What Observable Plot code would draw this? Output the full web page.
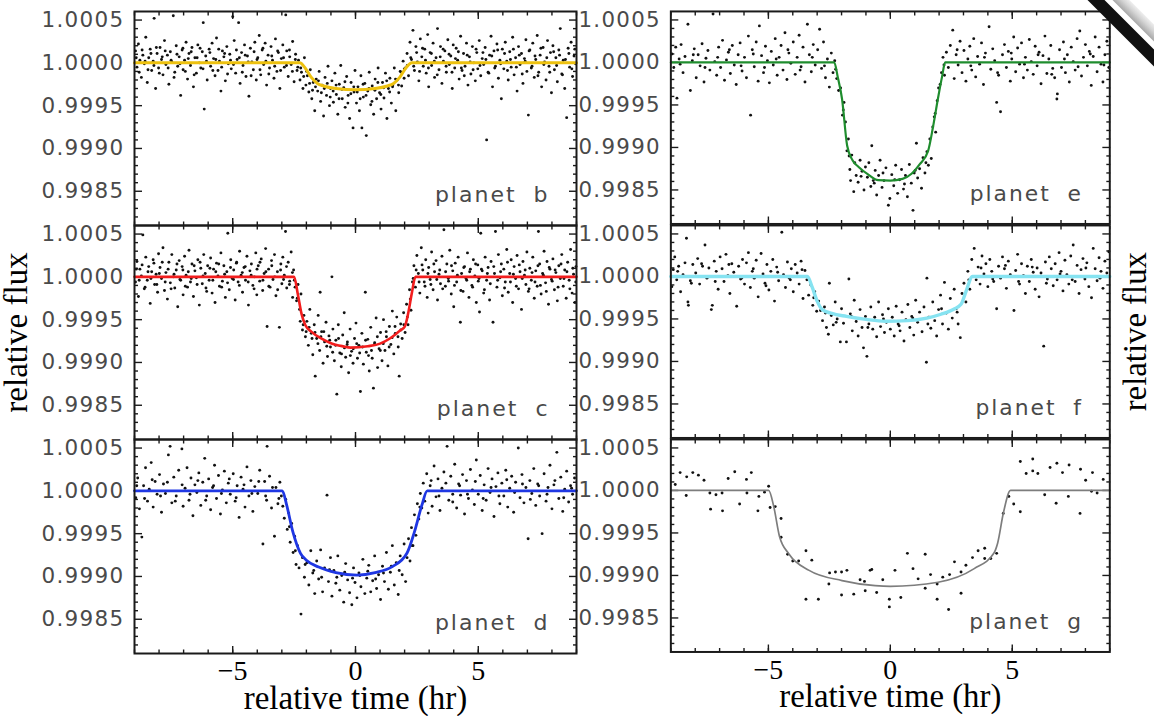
<!DOCTYPE html>
<html><head><meta charset="utf-8">
<script src="https://cdn.jsdelivr.net/npm/d3@7"></script>
<script src="https://cdn.jsdelivr.net/npm/@observablehq/plot@0.6"></script>
<style>
body{margin:0;background:#fff;}
#wrap{position:relative;width:1154px;height:716px;overflow:hidden;background:#fff;}
.panel{position:absolute;}
.panel svg{overflow:visible;background:transparent;}
g[aria-label="y-axis tick label"] text{letter-spacing:1.3px;}
.deco{position:absolute;transform:rotate(45deg);transform-origin:50% 50%;}
#rim{left:1085px;top:13px;width:110px;height:12px;background:linear-gradient(to top,#a8a8a8,#d6d6d6 60%,#eeeeee);}
#band{left:1071px;top:24px;width:110px;height:12px;background:#111;}
</style></head><body><div id="wrap"><div id="rim" class="deco"></div><div id="band" class="deco"></div></div>
<script>
// ---- axes / labels ----
const xMinorTicks = [-9,-8,-7,-6,-5,-4,-3,-2,-1,0,1,2,3,4,5,6,7,8,9];
const xMajorTicks = [-5,0,5];
const xTickLabels = ["\u22125","0","5"];
const yMajorTicks = [0.9985,0.9990,0.9995,1.0000,1.0005];
const yTickLabels = ["0.9985","0.9990","0.9995","1.0000","1.0005"];
const yMinorTicks = [0.9982,0.9983,0.9984,0.9986,0.9987,0.9988,0.9989,0.9991,0.9992,0.9993,0.9994,0.9996,0.9997,0.9998,0.9999,1.0001,1.0002,1.0003,1.0004];
const panelNames = ["planet b","planet c","planet d","planet e","planet f","planet g"];
const lineColors = ["#edc10f","#f21d1d","#1f37e3","#1f8d2e","#86e3f1","#7d7d7d"];
const xTitle = "relative time (hr)";
const yTitle = "relative flux";

// ---- model curves: pairs of [time (hr), flux deviation (ppm)] ----
const modelB = [-9,0, -2.27,0, -2.05,-60, -1.8,-170, -1.55,-240, -1.3,-270, -0.8,-300, 0,-315, 0.8,-300, 1.3,-270, 1.55,-240, 1.8,-170, 2.05,-60, 2.3,0, 9,0];
const modelC = [-9,0, -2.5,0, -2.35,-200, -2.2,-430, -2.04,-566, -1.8,-640, -1.4,-720, -1.0,-775, -0.5,-812, -0.2,-827, 0.5,-810, 1.0,-780, 1.4,-720, 1.83,-624, 2.0,-585, 2.15,-420, 2.3,-180, 2.44,0, 9,0];
const modelD = [-9,0, -2.98,0, -2.8,-170, -2.55,-480, -2.24,-730, -2.0,-810, -1.5,-890, -0.8,-955, 0.06,-984, 0.8,-955, 1.5,-885, 2.1,-726, 2.4,-480, 2.7,-170, 2.92,0, 9,0];
const modelE = [-9,0, -2.3,0, -2.15,-180, -1.98,-430, -1.77,-980, -1.55,-1150, -1.3,-1230, -0.9,-1320, -0.5,-1385, 0,-1390, 0.5,-1370, 0.87,-1310, 1.2,-1200, 1.55,-1040, 1.75,-760, 1.95,-430, 2.12,-170, 2.25,0, 9,0];
const modelF = [-9,0, -3.4,0, -3.2,-130, -3.0,-290, -2.79,-390, -2.4,-435, -1.8,-470, -1.0,-505, -0.2,-527, 0.7,-520, 1.5,-490, 2.08,-445, 2.6,-385, 2.9,-328, 3.1,-180, 3.37,0, 9,0];
const modelG = [-9,0, -4.99,0, -4.78,-190, -4.55,-535, -4.15,-750, -3.33,-940, -1.98,-1060, -0.62,-1120, 0,-1128, 1.96,-1080, 3.44,-920, 4.25,-735, 4.4,-620, 4.64,-260, 4.93,0, 9,0];

// ---- measurements: pairs of [time (hr), flux deviation (ppm)] ----
const ptsB = [-8.96,140,-8.9,-50,-8.84,220,-8.78,30,-8.72,-170,-8.66,90,-8.6,-10,-8.54,300,-8.48,-230,-8.42,60,-8.36,160,-8.3,-90,-8.24,20,-8.2,520,-8.14,-300,-8.08,110,-8.02,-60,
-7.96,180,-7.9,40,-7.84,-140,-7.78,260,-7.72,-20,-7.66,90,-7.6,-250,-7.54,130,-7.48,10,-7.42,550,-7.36,-110,-7.3,200,-7.24,-40,-7.18,70,-7.12,-380,-7.06,150,-7.02,-80,
-6.96,30,-6.9,240,-6.84,-190,-6.78,110,-6.72,-30,-6.66,180,-6.6,-280,-6.54,60,-6.48,-120,-6.42,210,-6.36,0,-6.3,-60,-6.24,130,-6.2,470,-6.16,-540,-6.1,80,-6.04,-200,
-5.96,160,-5.9,-40,-5.84,230,-5.78,50,-5.72,-150,-5.66,290,-5.6,-90,-5.54,20,-5.48,-330,-5.42,140,-5.36,70,-5.3,-210,-5.24,190,-5.18,-10,-5.12,100,-5.06,-70,-5.0,540,
-4.94,260,-4.88,-120,-4.82,40,-4.76,470,-4.7,-240,-4.64,120,-4.58,-30,-4.52,210,-4.46,-160,-4.4,80,-4.34,-390,-4.28,170,-4.22,10,-4.16,-80,-4.1,240,-4.04,-200,
-3.98,60,-3.92,320,-3.86,-140,-3.8,150,-3.74,-20,-3.68,230,-3.62,-260,-3.56,90,-3.5,-60,-3.44,190,-3.38,30,-3.32,-180,-3.26,280,-3.2,-100,-3.14,120,-3.08,-300,-3.02,50,
-2.96,210,-2.9,-50,-2.84,560,-2.8,140,-2.74,-160,-2.68,70,-2.62,-20,-2.56,250,-2.5,-220,-2.44,100,-2.38,-90,-2.32,30,-2.26,-200,-2.2,-110,-2.14,-300,-2.08,60,-2.02,-260,
-1.96,-150,-1.9,-340,-1.84,-80,-1.78,-420,-1.72,-230,-1.66,-560,-1.6,-190,-1.54,-330,-1.48,-100,-1.42,-450,-1.36,-260,-1.3,-620,-1.24,-170,-1.18,-380,-1.12,-40,-1.06,-500,-1.02,-300,
-0.96,-210,-0.9,-460,-0.84,-120,-0.78,-370,-0.72,-600,-0.66,-250,-0.6,-30,-0.54,-420,-0.48,-290,-0.42,-520,-0.36,-160,-0.3,-380,-0.24,-650,-0.18,-230,-0.1,-760,-0.06,-340,-0.02,-90,
0.04,-470,0.1,-280,0.16,-560,0.22,-150,0.26,-760,0.32,-400,0.38,-240,0.44,-850,0.5,-330,0.56,-110,0.62,-490,0.68,-270,0.74,-600,0.8,-190,0.86,-420,0.92,-60,0.98,-350,
1.04,-540,1.1,-230,1.16,-410,1.22,-120,1.28,-650,1.34,-300,1.4,-180,1.46,-470,1.52,-260,1.58,-60,1.64,-560,1.7,-200,1.76,-350,1.82,-100,1.88,-270,1.94,20,1.98,-180,
2.04,-60,2.1,110,2.16,-150,2.22,240,2.28,40,2.34,380,2.4,-90,2.46,190,2.52,10,2.58,-210,2.64,280,2.7,70,2.76,-40,2.82,160,2.88,-120,2.94,330,2.98,-280,
3.04,120,3.1,-30,3.16,230,3.22,-170,3.28,60,3.34,400,3.4,-80,3.46,190,3.52,-240,3.58,20,3.64,140,3.7,-110,3.76,270,3.82,-20,3.88,80,3.94,-300,3.98,210,
4.04,-60,4.1,170,4.16,30,4.22,-190,4.28,310,4.34,-90,4.4,110,4.46,-40,4.52,230,4.58,-260,4.64,70,4.7,-130,4.76,190,4.82,0,4.88,-210,4.94,120,4.98,-70,
5.04,260,5.1,-150,5.16,50,5.22,-20,5.28,180,5.34,-900,5.4,-110,5.46,90,5.52,310,5.58,-280,5.64,140,5.7,-40,5.76,220,5.82,-180,5.88,30,5.94,-420,5.98,160,
6.04,-70,6.1,240,6.16,20,6.22,-200,6.28,130,6.34,-50,6.4,300,6.46,-140,6.52,60,6.58,-330,6.64,190,6.7,-20,6.76,110,6.82,-240,6.88,50,6.94,270,6.98,-100,
7.04,-610,7.1,150,7.16,-60,7.22,230,7.28,-170,7.34,40,7.4,320,7.46,-110,7.52,90,7.58,-280,7.64,180,7.7,10,7.76,-200,7.82,260,7.88,-40,7.94,120,7.98,-350,
8.04,200,8.1,-80,8.16,60,8.22,-220,8.28,150,8.34,400,8.4,-130,8.46,30,8.52,-300,8.6,-640,8.66,170,8.72,-50,8.78,240,8.84,-160,8.9,80,8.96,-10];
const ptsB2 = [-8.93,60,-8.81,-110,-8.69,150,-8.57,20,-8.45,-80,-8.33,110,-8.21,-30,-8.11,180,-7.99,-120,-7.87,70,-7.75,140,-7.63,-60,-7.51,30,-7.39,-170,-7.27,100,-7.15,-10,-7.03,170,-6.93,-100,-6.81,50,-6.69,130,-6.57,-140,-6.45,60,-6.33,170,-6.21,-70,-6.07,20,-5.93,120,-5.81,-90,-5.69,40,-5.57,160,-5.45,-50,-5.33,110,-5.21,-130,-5.09,30,-4.97,-20,-4.85,150,-4.73,60,-4.61,-110,-4.49,90,-4.37,10,-4.25,-150,-4.13,130,-4.01,40,-3.89,-80,-3.77,170,-3.65,20,-3.53,-130,-3.41,80,-3.29,-40,-3.17,140,-3.05,-90,-2.93,60,-2.81,-30,-2.69,150,-2.57,-100,-2.45,40,-2.35,-50,-2.23,-60,-2.11,-160,-1.99,-100,-1.87,-240,-1.75,-320,-1.63,-280,-1.51,-210,-1.39,-350,-1.27,-300,-1.15,-240,-1.03,-400,-0.91,-330,-0.79,-260,-0.67,-420,-0.55,-310,-0.43,-220,-0.31,-470,-0.19,-360,-0.07,-280,0.07,-340,0.19,-420,0.31,-250,0.43,-380,0.55,-300,0.67,-450,0.79,-320,0.91,-230,1.03,-370,1.15,-290,1.27,-210,1.39,-340,1.51,-280,1.63,-190,1.75,-260,1.87,-110,1.99,-70,2.11,-30,2.25,60,2.37,-40,2.49,120,2.61,-100,2.73,170,2.85,30,2.97,-60,3.09,110,3.21,20,3.33,-140,3.45,70,3.57,160,3.69,-40,3.81,100,3.93,-110,4.07,50,4.19,130,4.31,-60,4.43,-150,4.55,90,4.67,10,4.79,-80,4.91,160,5.07,-30,5.19,120,5.31,40,5.43,-120,5.55,80,5.67,-60,5.79,150,5.91,-10,6.07,110,6.19,-90,6.31,40,6.43,160,6.55,-50,6.67,90,6.79,-130,6.91,20,7.07,140,7.19,-40,7.31,80,7.43,-150,7.55,170,7.67,-20,7.79,60,7.91,-110,8.07,130,8.19,-30,8.31,90,8.43,-140,8.55,40,8.69,110,8.81,-70,8.93,160];

const ptsC = [-8.96,-60,-8.9,180,-8.84,-230,-8.78,90,-8.72,10,-8.66,490,-8.6,-140,-8.54,230,-8.48,-40,-8.42,120,-8.36,-310,-8.3,60,-8.24,200,-8.18,-90,-8.12,30,-8.06,-180,-8.02,270,
-7.96,110,-7.9,-20,-7.84,340,-7.78,-160,-7.72,50,-7.66,-260,-7.6,170,-7.54,-70,-7.48,260,-7.42,0,-7.36,-130,-7.3,80,-7.24,-350,-7.18,190,-7.12,-40,-7.06,120,-7.02,-210,
-6.96,240,-6.9,20,-6.84,-120,-6.78,310,-6.72,-60,-6.66,150,-6.6,-230,-6.54,70,-6.48,-10,-6.42,200,-6.36,-330,-6.3,100,-6.24,-80,-6.18,260,-6.12,40,-6.06,-170,-6.02,130,
-5.96,-40,-5.9,220,-5.84,-190,-5.78,90,-5.72,-300,-5.66,160,-5.6,10,-5.54,-110,-5.48,280,-5.42,-50,-5.36,130,-5.3,-240,-5.24,60,-5.2,510,-5.14,-150,-5.08,200,-5.02,-20,
-4.96,80,-4.9,-270,-4.84,170,-4.78,-60,-4.72,300,-4.66,20,-4.6,-180,-4.54,110,-4.48,-40,-4.42,240,-4.36,-330,-4.3,70,-4.24,150,-4.18,-100,-4.12,0,-4.06,280,-4.02,-210,
-3.96,130,-3.9,-50,-3.84,210,-3.78,-160,-3.72,40,-3.66,330,-3.6,-580,-3.54,90,-3.48,-120,-3.42,190,-3.36,-30,-3.3,260,-3.24,-220,-3.18,60,-3.1,-590,-3.04,150,-3.0,-80,
-2.96,230,-2.9,20,-2.85,530,-2.8,-130,-2.74,170,-2.68,-50,-2.62,290,-2.56,-240,-2.52,80,-2.46,-120,-2.4,-280,-2.34,-90,-2.28,-380,-2.22,-200,-2.16,-620,-2.1,-450,-2.04,-700,
-1.98,-520,-1.92,-800,-1.86,-380,-1.8,-660,-1.74,-910,-1.68,-560,-1.64,-1160,-1.58,-720,-1.52,-450,-1.46,-860,-1.44,-180,-1.38,-640,-1.32,-1010,-1.26,-760,-1.2,-530,-1.14,-930,-1.08,-690,-1.02,-820,
-0.96,0,-0.92,-610,-0.86,-980,-0.8,-740,-0.76,-1370,-0.7,-560,-0.64,-890,-0.58,-1050,-0.52,-680,-0.46,-420,-0.4,-940,-0.34,-790,-0.28,-1120,-0.22,-610,-0.16,-870,-0.1,-1010,-0.04,-720,
0.02,-540,0.08,-950,0.14,-800,0.2,-1340,0.26,-660,0.32,-1020,0.4,-180,0.44,-880,0.5,-730,0.56,-1100,0.62,-590,0.68,-950,0.73,-1300,0.78,-770,0.84,-480,0.9,-1060,0.96,-840,
1.02,-650,1.08,-980,1.14,-500,1.2,-860,1.26,-700,1.32,-1040,1.38,-580,1.44,-790,1.5,-400,1.56,-900,1.62,-660,1.68,-470,1.74,-820,1.78,-1160,1.84,-550,1.9,-720,1.96,-420,
2.02,-650,2.08,-320,2.14,-560,2.2,-150,2.26,-390,2.32,-60,2.38,130,2.44,-120,2.5,250,2.56,40,2.62,-190,2.68,340,2.74,80,2.8,-60,2.86,200,2.92,-240,2.98,110,
3.04,-30,3.1,290,3.16,-150,3.22,60,3.28,190,3.34,-270,3.4,30,3.46,-80,3.52,240,3.6,550,3.66,-110,3.72,150,3.78,-20,3.84,310,3.9,-200,3.96,70,4.0,-350,
4.06,160,4.12,-60,4.18,230,4.27,-530,4.32,40,4.38,-170,4.44,120,4.5,-20,4.56,280,4.62,-240,4.68,90,4.74,-100,4.8,200,4.86,10,4.92,-300,4.98,140,5.0,-50,
5.05,-410,5.1,510,5.16,70,5.22,-190,5.28,230,5.34,-40,5.4,110,5.46,-270,5.52,180,5.6,-530,5.66,40,5.7,530,5.76,-120,5.82,260,5.88,-10,5.94,150,5.98,-220,
6.04,90,6.1,-60,6.16,320,6.22,-180,6.28,40,6.34,200,6.4,-300,6.46,120,6.52,-20,6.58,250,6.64,-140,6.7,60,6.76,-380,6.82,180,6.88,20,6.94,-90,6.98,290,
7.04,-170,7.1,100,7.16,-40,7.22,230,7.28,-250,7.34,70,7.4,-110,7.45,530,7.5,150,7.56,-200,7.62,40,7.68,300,7.74,-70,7.8,180,7.86,-320,7.92,90,7.98,-30,
8.04,210,8.1,-150,8.16,50,8.22,-280,8.28,130,8.34,-20,8.4,260,8.46,-110,8.52,80,8.58,-250,8.64,170,8.7,-40,8.76,320,8.82,-190,8.88,30,8.94,-300,8.98,120];
const ptsC2 = [-8.93,90,-8.81,-40,-8.69,140,-8.57,-120,-8.45,60,-8.33,-20,-8.21,160,-8.09,-90,-7.99,40,-7.87,170,-7.75,-60,-7.63,90,-7.51,-140,-7.39,30,-7.27,150,-7.15,-30,-7.03,80,-6.93,-110,-6.81,60,-6.69,-20,-6.57,130,-6.45,-90,-6.33,170,-6.21,10,-6.09,-130,-5.93,100,-5.81,-40,-5.69,60,-5.57,150,-5.45,-120,-5.33,30,-5.21,-70,-5.09,110,-4.97,-30,-4.85,160,-4.73,-100,-4.61,50,-4.49,120,-4.37,-60,-4.25,20,-4.13,-140,-4.01,90,-3.89,170,-3.77,-40,-3.65,60,-3.53,-110,-3.41,130,-3.29,0,-3.17,-150,-3.05,80,-2.93,-30,-2.81,120,-2.69,-90,-2.57,50,-2.49,-40,-2.37,-250,-2.25,-520,-2.13,-560,-2.01,-640,-1.89,-590,-1.77,-720,-1.65,-650,-1.53,-780,-1.41,-700,-1.29,-640,-1.17,-810,-1.05,-740,-0.93,-880,-0.81,-800,-0.69,-720,-0.57,-900,-0.45,-830,-0.33,-760,-0.21,-920,-0.09,-840,0.05,-780,0.17,-890,0.29,-820,0.41,-740,0.53,-920,0.65,-860,0.77,-790,0.89,-700,1.01,-860,1.13,-780,1.25,-640,1.37,-820,1.49,-710,1.61,-580,1.73,-700,1.85,-620,1.97,-560,2.11,-470,2.23,-260,2.35,-20,2.47,80,2.59,-60,2.71,140,2.83,-110,2.95,40,3.07,-90,3.19,150,3.31,-30,3.43,80,3.55,-140,3.67,60,3.79,-50,3.91,130,4.03,-100,4.15,20,4.29,-160,4.41,110,4.53,-40,4.65,60,4.77,-120,4.89,150,5.03,-20,5.13,90,5.25,-150,5.37,40,5.49,-80,5.63,120,5.79,-40,5.91,60,6.07,-130,6.19,170,6.31,-60,6.43,30,6.55,-110,6.67,140,6.79,-20,6.91,80,7.07,-140,7.19,50,7.31,-60,7.43,130,7.53,-100,7.65,20,7.77,-170,7.89,110,8.01,-50,8.13,80,8.25,-120,8.37,150,8.49,-20,8.61,60,8.73,-140,8.85,100,8.97,-60];

const ptsD = [-8.95,-80,-8.87,150,-8.8,-210,-8.7,-540,-8.63,60,-8.55,270,-8.47,-120,-8.4,20,-8.32,330,-8.24,-190,-8.16,110,-8.08,-40,
-7.98,190,-7.9,-250,-7.82,80,-7.74,-30,-7.62,420,-7.55,520,-7.48,-140,-7.4,160,-7.3,-60,-7.2,240,-7.07,490,-7.02,-180,
-6.94,30,-6.86,270,-6.78,-110,-6.7,150,-6.62,-290,-6.54,70,-6.46,-20,-6.38,210,-6.3,-170,-6.22,100,-6.14,380,-6.06,-60,
-5.98,140,-5.9,-220,-5.82,40,-5.74,300,-5.66,-90,-5.58,180,-5.5,-270,-5.42,10,-5.34,230,-5.26,-140,-5.18,90,-5.1,-40,
-4.98,200,-4.9,-120,-4.82,60,-4.74,-310,-4.66,160,-4.58,20,-4.5,-190,-4.42,280,-4.34,-60,-4.26,120,-4.18,-240,-4.1,50,
-3.98,-30,-3.9,240,-3.77,-620,-3.7,110,-3.62,-110,-3.6,520,-3.5,170,-3.42,-200,-3.3,-530,-3.24,40,-3.16,-150,-3.08,100,-3.02,-60,
-2.96,-180,-2.9,-320,-2.84,-100,-2.78,-450,-2.72,-260,-2.66,-600,-2.6,-380,-2.54,-720,-2.48,-530,-2.42,-860,-2.36,-640,-2.3,-900,-2.22,-1440,-2.16,-780,-2.08,-1010,
-1.98,-840,-1.9,-1100,-1.82,-700,-1.74,-960,-1.66,-1200,-1.58,-820,-1.5,-1030,-1.42,-690,-1.34,-1180,-1.26,-900,-1.16,-50,-1.1,-1060,-1.02,-780,
-0.96,-1230,-0.88,-930,-0.8,-1080,-0.72,-760,-0.64,-1160,-0.56,-990,-0.48,-1300,-0.4,-850,-0.32,-1040,-0.24,-1190,-0.15,-1330,-0.08,-900,-0.02,-1070,
0.06,-1250,0.14,-960,0.22,-1120,0.3,-800,0.38,-1200,0.46,-1020,0.54,-870,0.62,-1180,0.7,-1050,0.78,-760,0.86,-1140,0.94,-980,
1.02,-1270,1.1,-880,1.18,-1060,1.26,-720,1.34,-1150,1.42,-950,1.5,-640,1.58,-1100,1.66,-840,1.74,-1210,1.82,-760,1.9,-980,1.98,-620,
2.04,-1060,2.1,-780,2.16,-560,2.22,-820,2.28,-430,2.34,-640,2.4,-280,2.46,-520,2.52,-150,2.58,-330,2.64,-30,2.7,-200,2.76,90,2.82,-120,2.9,200,2.96,-260,
3.04,60,3.12,-180,3.2,290,3.28,-70,3.36,140,3.44,-230,3.52,30,3.6,220,3.73,520,3.8,-110,3.88,170,3.96,-40,
4.04,310,4.12,-200,4.2,80,4.28,-50,4.36,190,4.44,-270,4.52,120,4.6,-90,4.68,250,4.76,10,4.84,-160,4.92,360,
5.0,-40,5.08,180,5.16,-230,5.24,70,5.32,-110,5.4,260,5.48,-20,5.56,140,5.64,-300,5.72,50,5.8,210,5.88,-150,5.96,90,
6.04,-60,6.12,240,6.2,-190,6.28,30,6.36,170,6.44,-250,6.52,100,6.63,500,6.7,-80,6.78,190,6.86,-140,6.94,40,
7.03,-560,7.1,120,7.18,-30,7.26,260,7.34,-170,7.42,80,7.5,-60,7.6,-500,7.68,200,7.76,-120,7.84,40,7.92,300,
8.0,-210,8.08,70,8.2,450,8.28,-90,8.36,160,8.44,-240,8.52,20,8.6,230,8.68,-130,8.76,60,8.84,-40,8.92,150];
const ptsD2 = [-8.91,60,-8.59,-90,-8.28,130,-7.94,-60,-7.66,100,-7.34,-120,-7.06,70,-6.74,-40,-6.42,120,-6.1,-110,-5.78,60,-5.46,-30,-5.14,140,-4.86,-80,-4.54,70,-4.22,-30,-3.94,110,-3.66,-60,-3.38,40,-3.12,-90,-2.69,-420,-2.45,-700,-2.05,-860,-1.7,-930,-1.38,-1010,-1.06,-920,-0.76,-1010,-0.44,-950,-0.12,-1020,0.18,-990,0.5,-940,0.82,-1030,1.14,-960,1.46,-880,1.78,-930,2.31,-640,2.62,-190,3.08,120,3.4,-60,3.68,90,3.96,-130,4.24,60,4.56,-40,4.88,110,5.2,-90,5.52,40,5.84,-60,6.16,130,6.48,-20,6.8,80,7.12,-100,7.46,60,7.8,-40,8.12,120,8.48,-80,8.8,30];

const ptsE = [-8.96,100,-8.88,-60,-8.8,180,-8.75,-420,-8.66,40,-8.58,210,-8.5,-120,-8.42,70,-8.3,450,-8.2,-330,-8.12,20,-8.04,160,
-7.96,-180,-7.88,90,-7.8,-40,-7.72,220,-7.64,-230,-7.56,50,-7.48,140,-7.4,-90,-7.27,570,-7.2,10,-7.12,-150,-7.04,180,
-6.96,-60,-6.88,260,-6.8,-210,-6.72,30,-6.64,120,-6.56,-130,-6.48,200,-6.4,-30,-6.32,-260,-6.24,90,-6.16,230,-6.08,-100,
-5.98,60,-5.9,-180,-5.82,310,-5.73,-620,-5.66,150,-5.58,-50,-5.5,240,-5.42,-220,-5.37,430,-5.28,80,-5.2,-120,-5.12,190,-5.04,20,
-4.96,-240,-4.88,130,-4.8,-30,-4.72,280,-4.64,-150,-4.56,60,-4.48,200,-4.4,-90,-4.32,350,-4.24,-200,-4.16,110,-4.08,-10,
-3.98,240,-3.9,-140,-3.82,60,-3.74,320,-3.66,-50,-3.58,180,-3.5,-230,-3.4,450,-3.32,90,-3.24,-110,-3.16,210,-3.08,-30,
-2.98,150,-2.9,390,-2.82,-70,-2.74,240,-2.66,-180,-2.58,40,-2.5,-290,-2.42,110,-2.35,-120,-2.28,20,-2.2,-190,-2.12,-330,-2.04,-300,
-1.96,-620,-1.9,-470,-1.84,-700,-1.78,-1040,-1.72,-900,-1.66,-1260,-1.63,-1390,-1.58,-1090,-1.5,-1520,-1.46,-1180,-1.4,-1330,-1.32,-1410,-1.24,-1150,-1.16,-1280,-1.08,-1500,-1.02,-1230,
-0.94,-1350,-0.88,-1180,-0.8,-1460,-0.76,-980,-0.7,-1390,-0.62,-1270,-0.56,-1560,-0.48,-1330,-0.42,-1150,-0.34,-1470,-0.26,-1390,-0.18,-1240,-0.08,-1680,-0.02,-1600,
0.06,-1320,0.14,-1450,0.22,-1210,0.3,-1540,0.38,-1380,0.46,-1260,0.54,-1490,0.62,-1330,0.7,-1580,0.78,-1200,0.86,-1420,0.93,-1740,0.98,-1300,
1.07,-950,1.12,-1360,1.2,-1250,1.28,-1480,1.34,-1120,1.42,-1300,1.5,-1050,1.56,-1210,1.62,-900,1.68,-1130,1.74,-760,1.8,-640,1.86,-820,1.92,-450,1.98,-300,
2.04,-260,2.1,-120,2.16,60,2.22,-150,2.3,120,2.38,-60,2.46,200,2.56,380,2.62,-190,2.7,90,2.78,-30,2.86,250,2.94,-120,
3.02,140,3.1,-220,3.18,40,3.26,190,3.34,-90,3.42,280,3.5,-170,3.58,70,3.66,-20,3.74,230,3.82,-260,3.9,110,4.05,420,
4.12,-80,4.2,160,4.28,20,4.36,-470,4.44,-150,4.52,-580,4.6,90,4.68,210,4.76,-60,4.84,130,4.92,-220,4.98,40,
5.06,300,5.14,-110,5.22,170,5.3,-20,5.38,230,5.46,-180,5.54,60,5.62,-90,5.7,270,5.78,10,5.86,-140,5.94,190,
6.02,-40,6.1,120,6.18,-250,6.26,80,6.34,310,6.42,-130,6.5,40,6.58,200,6.66,-70,6.74,-180,6.83,-430,6.85,-370,6.94,150,
7.02,-60,7.1,240,7.18,-120,7.26,90,7.34,-230,7.42,180,7.5,10,7.58,-90,7.66,280,7.77,370,7.84,-160,7.92,60,
8.0,210,8.08,-40,8.16,130,8.24,-270,8.32,70,8.4,300,8.48,-110,8.56,180,8.64,-20,8.72,-230,8.8,90,8.88,250,8.96,-60];
const ptsE2 = [-8.62,-20,-8.08,90,-7.6,-60,-7.08,60,-6.6,150,-6.12,-40,-5.62,100,-5.16,-60,-4.68,40,-4.2,150,-3.7,-90,-3.2,60,-2.7,-40,-2.24,-80,-1.93,-560,-1.69,-1100,-1.2,-1340,-0.66,-1420,-0.3,-1300,0.18,-1380,0.58,-1430,1.02,-1270,1.46,-1180,1.84,-600,2.2,-30,2.74,150,3.3,-40,3.86,60,4.4,-120,4.96,110,5.5,-20,6.06,90,6.62,-140,7.14,40,7.7,-50,8.2,100,8.76,-30];

const ptsF = [-8.96,-120,-8.9,80,-8.84,230,-8.76,-40,-8.68,120,-8.6,-180,-8.5,20,-8.42,160,-8.36,450,-8.3,-300,-8.28,-340,-8.2,-50,-8.1,140,
-7.98,40,-7.9,210,-7.82,-90,-7.74,150,-7.6,370,-7.52,-20,-7.44,100,-7.34,-390,-7.3,-340,-7.22,180,-7.14,60,-7.06,-150,
-6.98,230,-6.9,90,-6.82,-60,-6.74,260,-6.66,10,-6.58,-200,-6.5,150,-6.42,50,-6.3,-350,-6.22,120,-6.14,-30,-6.06,200,
-5.98,-90,-5.9,160,-5.82,280,-5.74,-130,-5.66,60,-5.58,-20,-5.5,190,-5.42,-240,-5.3,270,-5.22,30,-5.14,-80,-5.06,140,
-4.98,-160,-4.9,60,-4.82,200,-4.75,-290,-4.66,110,-4.58,-50,-4.45,520,-4.38,20,-4.3,-130,-4.22,170,-4.14,-20,-4.06,90,
-3.98,-180,-3.9,140,-3.82,40,-3.74,-90,-3.66,180,-3.58,-260,-3.5,70,-3.42,-40,-3.35,-220,-3.26,-100,-3.18,-340,-3.1,-180,-3.02,-410,
-2.94,-290,-2.86,-400,-2.78,-520,-2.7,-360,-2.62,-600,-2.54,-680,-2.5,-80,-2.42,-460,-2.34,-570,-2.26,-300,-2.18,-500,-2.05,-770,-2.0,-380,
-1.92,-550,-1.8,-770,-1.7,-30,-1.64,-440,-1.56,-640,-1.48,-280,-1.4,-530,-1.32,-700,-1.24,-390,-1.16,-600,-1.1,-840,-1.02,-470,
-0.96,-940,-0.88,-560,-0.8,-360,-0.72,-620,-0.64,-480,-0.56,-710,-0.48,-300,-0.4,-590,-0.32,-450,-0.24,-660,-0.16,-540,-0.08,-380,
0.0,-620,0.08,-480,0.16,-700,0.24,-350,0.32,-560,0.4,-640,0.48,-420,0.56,-760,0.64,-510,0.72,-330,0.8,-600,0.88,-470,0.96,-690,
1.04,-280,1.12,-540,1.2,-420,1.3,-650,1.38,-360,1.48,-1010,1.5,-20,1.58,-480,1.66,-610,1.74,-300,1.82,-520,1.9,-700,1.98,-390,
2.06,-220,2.14,-560,2.22,-70,2.3,-430,2.38,-620,2.46,-260,2.54,-490,2.62,-150,2.7,-380,2.78,-560,2.87,-720,2.94,-200,
3.02,-80,3.1,-300,3.18,60,3.26,-150,3.34,200,3.44,330,3.52,-40,3.6,110,3.68,-90,3.76,240,3.84,30,3.92,150,
4.0,-120,4.08,200,4.16,60,4.24,-60,4.36,-380,4.44,120,4.52,-20,4.6,230,4.68,90,4.76,-140,4.84,180,4.92,20,
5.07,-400,5.14,70,5.22,260,5.3,-90,5.38,150,5.46,10,5.54,-200,5.62,120,5.7,-60,5.78,200,5.86,50,5.94,-150,
6.02,100,6.1,-240,6.18,40,6.29,-820,6.36,170,6.44,-30,6.52,230,6.6,90,6.68,-110,6.76,150,6.84,-40,6.92,280,
7.0,60,7.08,-170,7.16,190,7.24,20,7.32,-90,7.4,240,7.5,370,7.58,-60,7.66,130,7.74,-200,7.82,80,7.9,210,
7.98,-30,8.06,160,8.14,-120,8.25,-250,8.32,330,8.4,90,8.48,-50,8.56,220,8.64,60,8.72,-140,8.8,180,8.88,40,8.96,290];
const ptsF2 = [-8.72,60,-8.16,-80,-7.7,120,-7.18,-60,-6.62,140,-6.1,-20,-5.62,90,-5.1,-110,-4.62,50,-4.1,-40,-3.62,80,-3.14,-250,-2.66,-430,-2.22,-540,-1.6,-470,-0.92,-600,-0.28,-500,0.36,-580,0.92,-490,1.54,-560,2.1,-380,2.74,-420,3.22,-40,3.72,100,4.2,-30,4.72,130,5.26,-60,5.82,110,6.4,-80,6.96,30,7.46,-40,8.02,100,8.6,-20];

const ptsG = [-8.82,70,-8.62,210,-8.37,-60,-8.35,160,-8.1,210,-7.87,180,-7.64,120,-7.4,-30,-7.37,-220,-7.15,-50,-6.9,-30,-6.88,-240,-6.65,140,-6.38,220,-6.18,-160,-5.9,130,-5.88,-30,-5.7,210,-5.43,-240,-5.39,-70,-5.16,-20,-4.99,50,-4.93,-200,-4.72,-190,
-4.48,-330,-4.48,-550,-4.21,-750,-4.0,-830,-3.76,-830,-3.46,-710,-3.46,-1280,-3.22,-820,-2.95,-1280,-2.52,-1100,-2.49,-970,-2.25,-960,-2.0,-960,-2.0,-1230,-1.78,-940,-1.5,-1220,-1.24,-1050,-1.06,-1070,-1.03,-1180,-0.83,-940,-0.76,-930,-0.56,-1200,-0.31,-1050,-0.04,-1280,-0.04,-1370,
0.19,-940,0.43,-1260,0.7,-740,0.93,-920,1.14,-1040,1.43,-750,1.43,-1150,1.65,-990,1.92,-1280,1.92,-1100,2.15,-1020,2.39,-1400,2.43,-990,2.63,-840,2.9,-960,2.9,-1210,3.1,-880,3.37,-790,3.6,-710,3.87,-680,3.87,-800,4.12,-800,4.36,-740,4.63,-270,4.86,-70,
5.06,-160,5.33,-250,5.33,340,5.57,200,5.84,370,5.84,230,6.05,200,6.33,-50,6.55,270,6.8,-150,6.83,320,7.06,210,7.3,-70,7.33,300,7.78,-270,7.8,250,8.01,120,8.25,-10,8.29,210,8.48,-30,8.73,130];

const panels = [
  {col:0,row:0,pts:[ptsB,ptsB2],model:modelB,lw:3},
  {col:0,row:1,pts:[ptsC,ptsC2],model:modelC,lw:2.6},
  {col:0,row:2,pts:[ptsD,ptsD2],model:modelD,lw:2.8},
  {col:1,row:0,pts:[ptsE,ptsE2],model:modelE,lw:2.2},
  {col:1,row:1,pts:[ptsF,ptsF2],model:modelF,lw:3.4},
  {col:1,row:2,pts:[ptsG],model:modelG,lw:1.7}
];

function pairs(arr){const out=[];for(let i=0;i<arr.length;i+=2)out.push({t:arr[i],f:1+arr[i+1]*1e-6});return out;}

const PW = 442, PH = 214;
const frameLeft = [134, 671];
const frameTop = [11, 225, 439];
const wrap = document.getElementById("wrap");
const firstDeco = document.getElementById("rim");

panels.forEach((p, i) => {
  const bottom = p.row === 2;
  const mL = p.col === 0 ? 134 : 95;
  const mR = p.col === 0 ? 4 : 45;
  const mT = 8, mB = bottom ? 70 : 8;
  const tickColor = "#1a1a1a";
  const dots = [].concat(...p.pts.map(pairs));
  const marks = [
    Plot.axisX({anchor:"bottom", ticks:xMinorTicks, tickSize:-3.5, tickFormat:()=>"", label:null, color:tickColor, strokeWidth:1.4}),
    Plot.axisX({anchor:"top", ticks:xMinorTicks, tickSize:-3.5, tickFormat:()=>"", label:null, color:tickColor, strokeWidth:1.4}),
    Plot.axisX({anchor:"bottom", ticks:xMajorTicks, tickSize:-7, tickFormat:()=>"", label:null, color:tickColor, strokeWidth:1.4}),
    Plot.axisX({anchor:"top", ticks:xMajorTicks, tickSize:-7, tickFormat:()=>"", label:null, color:tickColor, strokeWidth:1.4}),
    Plot.axisY({anchor:"left", ticks:yMinorTicks, tickSize:-4, tickFormat:()=>"", label:null, color:tickColor, strokeWidth:1.4}),
    Plot.axisY({anchor:"right", ticks:yMinorTicks, tickSize:-4, tickFormat:()=>"", label:null, color:tickColor, strokeWidth:1.4}),
    Plot.axisY({anchor:"left", ticks:yMajorTicks, tickSize:-8, tickFormat:()=>"", label:null, color:tickColor, strokeWidth:1.4}),
    Plot.axisY({anchor:"right", ticks:yMajorTicks, tickSize:-8, tickFormat:()=>"", label:null, color:tickColor, strokeWidth:1.4}),
    Plot.axisY({anchor:"left", ticks:yMajorTicks, tickSize:0, tickPadding:10, label:null,
      tickFormat:(d)=>yTickLabels[yMajorTicks.indexOf(d)], fontSize:21.5, fontFamily:"DejaVu Sans", color:"#4a4a4a"}),
    Plot.dot(dots, {x:"t", y:"f", r:1.45, fill:"#111", stroke:"none"}),
    Plot.line(pairs(p.model), {x:"t", y:"f", stroke:lineColors[i], strokeWidth:p.lw, curve:"monotone-x"}),
    Plot.frame({stroke:"#1a1a1a", strokeWidth:2}),
    Plot.text([panelNames[i]], {text:d=>d, frameAnchor:"bottom-right", lineAnchor:"bottom", dx:-27, dy:-23.5,
      fontSize:22, fontFamily:"DejaVu Sans", fill:"#4a4a4a"})
  ];
  if (bottom) {
    marks.push(Plot.axisX({anchor:"bottom", ticks:xMajorTicks, tickSize:0, tickPadding:7, label:null,
      tickFormat:(d)=>xTickLabels[xMajorTicks.indexOf(d)], fontSize:28, fontFamily:"Liberation Serif", color:"#000"}));
    marks.push(Plot.text([xTitle], {text:d=>d, frameAnchor:"bottom", lineAnchor:"bottom", dy:55.5,
      fontSize:33, fontFamily:"Liberation Serif", fill:"#000"}));
  }
  if (p.row === 1) {
    marks.push(Plot.text([yTitle], {text:d=>d, frameAnchor: p.col === 0 ? "left" : "right", textAnchor:"middle", rotate:-90,
      dx: p.col === 0 ? -117.6 : 25.4, fontSize:33, fontFamily:"Liberation Serif", fill:"#000"}));
  }
  const svg = Plot.plot({
    width: mL + PW + mR, height: mT + PH + mB,
    marginLeft: mL, marginRight: mR, marginTop: mT, marginBottom: mB,
    x: {domain:[-9, 9], label:null},
    y: {domain:[0.9981, 1.0006], label:null},
    style: {background:"transparent", overflow:"visible"},
    marks
  });
  svg.querySelectorAll("text").forEach(t => {
    if (t.textContent === panelNames[i]) { t.style.letterSpacing = "2px"; t.style.wordSpacing = "8px"; }
  });
  const div = document.createElement("div");
  div.className = "panel";
  div.style.left = (frameLeft[p.col] - mL) + "px";
  div.style.top = (frameTop[p.row] - mT) + "px";
  div.appendChild(svg);
  wrap.insertBefore(div, firstDeco);
});
</script>
</body></html>
